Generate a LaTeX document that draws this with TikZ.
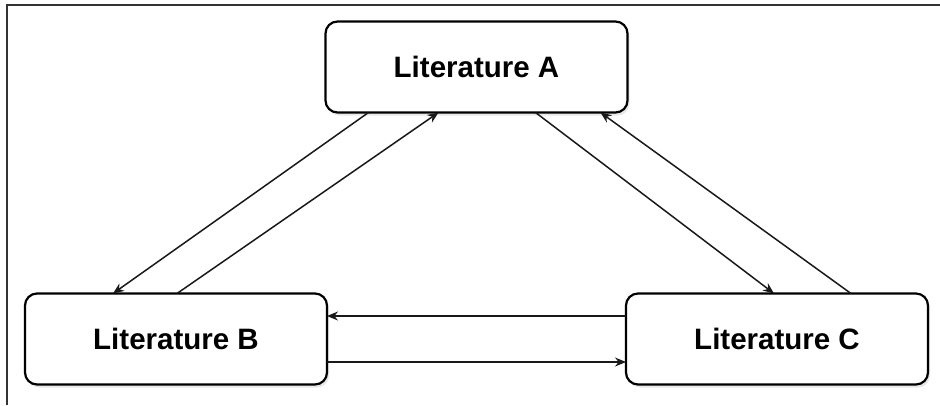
\documentclass[tikz,border=0pt]{standalone}
\usepackage{fontspec}
\setmainfont{Liberation Sans}
\usetikzlibrary{arrows.meta,calc,shadows}
\begin{document}
\begin{tikzpicture}[x=1pt,y=-1pt,
  litbox/.style={draw=black, line width=2.2pt, rounded corners=12pt, fill=white,
    minimum width=302pt, minimum height=91pt, inner sep=0pt, outer sep=0pt,
    font=\fontsize{29.5}{34}\selectfont\bfseries,
    drop shadow={opacity=0.18, shadow xshift=2pt, shadow yshift=-3pt}},
  link/.style={draw=black!90, line width=1.5pt, -{Stealth[length=11pt,width=9pt]}}]
  \useasboundingbox (0,0) rectangle (940,405);
  % frame edges
  \coordinate (fbl) at (7,405);
  \coordinate (ftl) at (7,5);
  \coordinate (ftr) at (940,5);
  \draw[line width=1.2pt, black!80] (fbl) -- (ftl) -- (ftr);

  \node[litbox] (A) at (476.5,67) {Literature A};
  \node[litbox] (B) at (176,339) {Literature B};
  \node[litbox] (C) at (777,339) {Literature C};

  % A <-> B
  \draw[link] ($(A.south west)+(43,0)$) -- ($(B.north west)+(88,0)$);
  \draw[link] ($(B.north west)+(152,0)$) -- ($(A.south west)+(113,0)$);
  % A <-> C
  \draw[link] ($(A.south west)+(210,0)$) -- ($(C.north west)+(148,0)$);
  \draw[link] ($(C.north west)+(225,0)$) -- ($(A.south west)+(275,0)$);
  % B <-> C
  \draw[link] ($(C.west)+(0,-23)$) -- ($(B.east)+(0,-23)$);
  \draw[link] ($(B.east)+(0,23)$) -- ($(C.west)+(0,23)$);
\end{tikzpicture}
\end{document}
